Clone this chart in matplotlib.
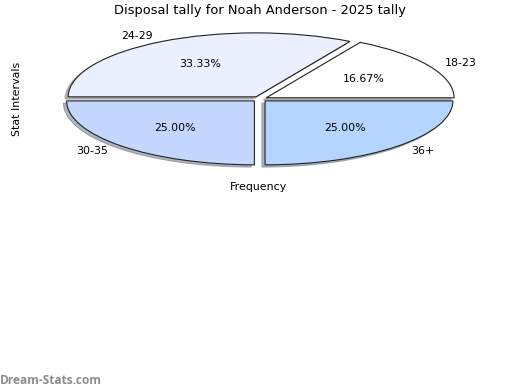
import matplotlib
matplotlib.use('Agg')
import matplotlib.pyplot as plt

# Data
LABELS = ['18-23', '24-29', '30-35', '36+']
COUNTS = [2, 4, 3, 3]
COLORS = ['#ffffff', '#eaf0fe', '#c5d7fe', '#b4d5fe']

TITLE = 'Disposal tally for Noah Anderson - 2025 tally'

fig = plt.figure(figsize=(5.2, 3.9), dpi=100)
ax = fig.add_axes([0.048, 0.541, 0.903, 0.410])

wedges, texts, autotexts = ax.pie(
    COUNTS, labels=LABELS, colors=COLORS, autopct='%.2f%%',
    startangle=0, counterclock=True, explode=[0.04] * len(COUNTS),
    shadow={'ox': -0.012, 'oy': -0.025, 'shade': 0.5},
    wedgeprops={'edgecolor': '#222222', 'linewidth': 0.8},
    textprops={'fontsize': 7.9}, labeldistance=1.1, pctdistance=0.6,
    frame=False)
ax.set_aspect('auto')
ax.set_xlim(-1.25, 1.25)
ax.set_ylim(-1.25, 1.25)
ax.axis('off')

fig.text(0.5, 0.974, TITLE, ha='center', va='center', fontsize=9.4)
fig.text(0.033, 0.746, 'Stat Intervals', ha='center', va='center',
         rotation=90, fontsize=7.9)
fig.text(0.498, 0.52, 'Frequency', ha='center', va='center', fontsize=7.9)
fig.text(0.0, 0.025, 'Dream-Stats.com', ha='left', va='center',
         fontsize=8.6, color='#8c8c8c', family='Open Sans', weight='bold')

fig.savefig('out.png', dpi=100)
